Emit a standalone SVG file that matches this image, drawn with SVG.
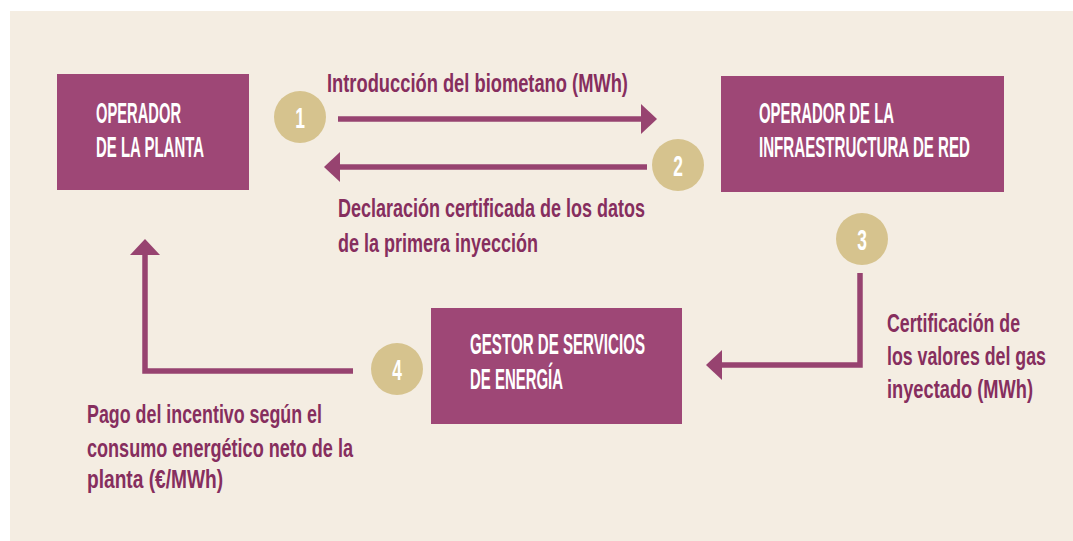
<svg xmlns="http://www.w3.org/2000/svg" width="1073" height="541" viewBox="0 0 1073 541">
<style>
.box{fill:#9E4776}
.bt{font-family:"Liberation Sans",Arial,sans-serif;font-size:29px;font-weight:bold;fill:#FFFFFF}
.lbl{font-family:"Liberation Sans",Arial,sans-serif;font-size:26px;font-weight:bold;fill:#862E5E}
.num{fill:#D6C38E}
.nt{font-family:"Liberation Sans",Arial,sans-serif;font-size:29px;font-weight:bold;fill:#FFFFFF;text-anchor:middle}
.con{fill:none;stroke:#974370;stroke-width:5.5}
</style>
<defs>
<marker id="ah" markerUnits="userSpaceOnUse" markerWidth="18" markerHeight="32" refX="0" refY="15" orient="auto" viewBox="0 0 18 30">
<path d="M0,0 L16,15 L0,30 z" fill="#974370"/>
</marker>
</defs>
<rect x="10" y="11" width="1063" height="530" fill="#F4EDE2"/>
<g id="connectors">
<path class="con" d="M338,119 H641" marker-end="url(#ah)"/>
<path class="con" d="M647,167 H340" marker-end="url(#ah)"/>
<path class="con" d="M860,273 V365 H722" marker-end="url(#ah)"/>
<path class="con" d="M353,371 H145 V255" marker-end="url(#ah)"/>
</g>
<g id="node-planta">
<rect class="box" x="57" y="74" width="192" height="116"/>
<text class="bt" transform="matrix(0.56 0 0 1 96 123)" textLength="151.8" lengthAdjust="spacingAndGlyphs">OPERADOR</text>
<text class="bt" transform="matrix(0.56 0 0 1 96 157)" textLength="192.9" lengthAdjust="spacingAndGlyphs">DE LA PLANTA</text>
</g>
<g id="node-red">
<rect class="box" x="721" y="76" width="283" height="116"/>
<text class="bt" transform="matrix(0.56 0 0 1 759 123)" textLength="241.1" lengthAdjust="spacingAndGlyphs">OPERADOR DE LA</text>
<text class="bt" transform="matrix(0.56 0 0 1 759 157)" textLength="376.8" lengthAdjust="spacingAndGlyphs">INFRAESTRUCTURA DE RED</text>
</g>
<g id="node-gestor">
<rect class="box" x="431" y="308" width="251" height="116"/>
<text class="bt" transform="matrix(0.56 0 0 1 470 354)" textLength="312.5" lengthAdjust="spacingAndGlyphs">GESTOR DE SERVICIOS</text>
<text class="bt" transform="matrix(0.56 0 0 1 470 389)" textLength="166.1" lengthAdjust="spacingAndGlyphs">DE ENERGÍA</text>
</g>
<g id="step-1">
<circle class="num" cx="300" cy="117" r="26"/>
<text class="nt" transform="matrix(0.6 0 0 1 300 127.5)">1</text>
</g>
<g id="step-2">
<circle class="num" cx="678" cy="165" r="26"/>
<text class="nt" transform="matrix(0.6 0 0 1 678 175.5)">2</text>
</g>
<g id="step-3">
<circle class="num" cx="862" cy="239" r="26"/>
<text class="nt" transform="matrix(0.6 0 0 1 862 249.5)">3</text>
</g>
<g id="step-4">
<circle class="num" cx="397" cy="369" r="26"/>
<text class="nt" transform="matrix(0.6 0 0 1 397 379.5)">4</text>
</g>
<g id="labels">
<text class="lbl" transform="matrix(0.68 0 0 1 327 92)" textLength="442.6" lengthAdjust="spacingAndGlyphs">Introducción del biometano (MWh)</text>
<text class="lbl" transform="matrix(0.68 0 0 1 338 217)" textLength="451.5" lengthAdjust="spacingAndGlyphs">Declaración certificada de los datos</text>
<text class="lbl" transform="matrix(0.68 0 0 1 338 252)" textLength="294.1" lengthAdjust="spacingAndGlyphs">de la primera inyección</text>
<text class="lbl" transform="matrix(0.68 0 0 1 887 332)" textLength="195.6" lengthAdjust="spacingAndGlyphs">Certificación de</text>
<text class="lbl" transform="matrix(0.68 0 0 1 887 365)" textLength="233.8" lengthAdjust="spacingAndGlyphs">los valores del gas</text>
<text class="lbl" transform="matrix(0.68 0 0 1 887 398)" textLength="214.7" lengthAdjust="spacingAndGlyphs">inyectado (MWh)</text>
<text class="lbl" transform="matrix(0.68 0 0 1 87 423)" textLength="345.6" lengthAdjust="spacingAndGlyphs">Pago del incentivo según el</text>
<text class="lbl" transform="matrix(0.68 0 0 1 87 457)" textLength="391.2" lengthAdjust="spacingAndGlyphs">consumo energético neto de la</text>
<text class="lbl" transform="matrix(0.68 0 0 1 87 488)" textLength="200" lengthAdjust="spacingAndGlyphs">planta (€/MWh)</text>
</g>
</svg>
